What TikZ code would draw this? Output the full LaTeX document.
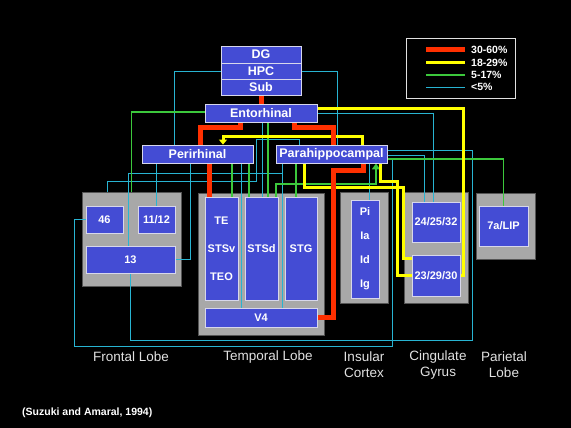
\documentclass[tikz,border=0pt]{standalone}
\usepackage{fontspec}
\setmainfont{Liberation Sans}
\usetikzlibrary{arrows.meta}
\pgfdeclarelayer{lobes}
\pgfdeclarelayer{wires}
\pgfsetlayers{lobes,wires,main}
\definecolor{boxblue}{RGB}{68,76,212}
\definecolor{boxedge}{RGB}{215,215,235}
\definecolor{lobegray}{RGB}{168,168,168}
\definecolor{lobeedge}{RGB}{85,85,85}
\definecolor{wred}{RGB}{255,48,0}
\definecolor{wyellow}{RGB}{255,255,0}
\definecolor{wgreen}{RGB}{60,200,60}
\definecolor{wcyan}{RGB}{40,180,210}
\definecolor{labelgray}{RGB}{225,225,225}

\begin{document}
\begin{tikzpicture}[x=1pt, y=-1pt,
    area/.style={draw=boxedge, line width=0.8pt, fill=boxblue, text=white,
      inner sep=0pt, font=\fontsize{11}{13}\selectfont\bfseries},
    bigarea/.style={area, font=\fontsize{12.5}{14}\selectfont\bfseries},
    lobe/.style={draw=lobeedge, line width=1pt, fill=lobegray, inner sep=0pt},
    redwire/.style={draw=wred, line width=5pt},
    yellowwire/.style={draw=wyellow, line width=3pt},
    greenwire/.style={draw=wgreen, line width=1.8pt},
    cyanwire/.style={draw=wcyan, line width=0.9pt},
    lobename/.style={text=labelgray, align=center, font=\fontsize{13.5}{16}\selectfont}]

  \begin{pgfonlayer}{lobes}
    \fill[black] (0,0) rectangle (571,428);
    \node[lobe, minimum width=99pt, minimum height=94pt] (frontal) at (131.5,239) {};
    \node[lobe, minimum width=126pt, minimum height=142pt] (temporal) at (261,264) {};
    \node[lobe, minimum width=48pt, minimum height=111pt] (insular) at (364,247.5) {};
    \node[lobe, minimum width=64pt, minimum height=111pt] (cingulate) at (436,247.5) {};
    \node[lobe, minimum width=59pt, minimum height=66pt] (parietal) at (505.5,226) {};
  \end{pgfonlayer}

  % hippocampal formation
  \node[bigarea, minimum width=80pt, minimum height=17pt] (dg) at (261,54.5) {DG};
  \node[bigarea, minimum width=80pt, minimum height=16pt] (hpc) at (261,71) {HPC};
  \node[bigarea, minimum width=80pt, minimum height=16pt] (sub) at (261,87) {Sub};
  \node[bigarea, minimum width=112pt, minimum height=18pt] (ento) at (261,113) {Entorhinal};
  \node[bigarea, minimum width=111pt, minimum height=18pt] (peri) at (197.5,154) {Perirhinal};
  \node[bigarea, minimum width=111pt, minimum height=18pt] (para) at (331.5,154) {Parahippocampal};

  % cortical areas
  \node[area, minimum width=37pt, minimum height=27pt] (a46) at (104.5,219.5) {46};
  \node[area, minimum width=37pt, minimum height=27pt] (a1112) at (156.5,219.5) {11/12};
  \node[area, minimum width=89pt, minimum height=27pt] (a13) at (130.5,259.5) {13};
  \node[area, minimum width=33pt, minimum height=103pt, align=center,
        font=\fontsize{11}{28}\selectfont\bfseries] (te) at (221.5,248.5) {TE\\STSv\\TEO};
  \node[area, minimum width=33pt, minimum height=103pt] (stsd) at (261.5,248.5) {STSd};
  \node[area, minimum width=32pt, minimum height=103pt] (stg) at (301,248.5) {STG};
  \node[area, minimum width=112pt, minimum height=19pt] (v4) at (261,317.5) {V4};
  \node[area, minimum width=28pt, minimum height=98pt, align=center,
        font=\fontsize{11}{24}\selectfont\bfseries] (pi) at (365,249) {Pi\\Ia\\Id\\Ig};
  \node[area, minimum width=48pt, minimum height=40pt] (a242532) at (436,222) {24/25/32};
  \node[area, minimum width=48pt, minimum height=41pt] (a232930) at (436,275.5) {23/29/30};
  \node[area, minimum width=49pt, minimum height=40pt] (lip) at (503.5,226) {7a/LIP};

  \begin{pgfonlayer}{wires}
    % <5%
    \draw[cyanwire] (hpc.west) -| (174,0 |- peri.north);
    \draw[cyanwire] (hpc.east) -| (337,0 |- para.north);
    \draw[cyanwire] (299,0 |- para.north) |- (256,139) |- (107,181) -- (107,0 |- frontal.north);
    \draw[cyanwire] (282,0 |- para.south) |- (128,173) -- (128,0 |- a13.north);
    \draw[cyanwire] (282,0 |- para.south) -- (282,0 |- v4.north);
    \draw[cyanwire] (156,0 |- peri.south) -- (156,0 |- a1112.north);
    \draw[cyanwire] (190,0 |- peri.south) |- (a13.east);
    \draw[cyanwire] (241,0 |- peri.south) -- (241,0 |- v4.north);
    \draw[cyanwire] ([yshift=4pt]para.east) -| (472,340) -| (a13.south);
    \draw[cyanwire] (a46.west) -| (74,346) -| (392,158) -- ([yshift=-4pt]para.east);
    \draw[cyanwire] (ento.east) -| (433,0 |- a242532.north);
    \draw[cyanwire] ([yshift=-1pt]para.east) -| (424,0 |- a242532.north);
    \draw[cyanwire] (369,0 |- para.south) -- (369,0 |- pi.north);
    \draw[cyanwire] (262,0 |- ento.south) -- (262,0 |- stsd.north);
    % 5-17%
    \draw[greenwire] ([yshift=1pt]ento.west) -| (frontal.north);
    \draw[greenwire] ([yshift=-5pt]para.east) -| (lip.north);
    \draw[greenwire] (268,0 |- ento.south) -- (268,0 |- stsd.north);
    \draw[greenwire] (232,0 |- peri.south) -- (232,0 |- te.north);
    \draw[greenwire] (249,0 |- peri.south) -- (249,0 |- stsd.north);
    \draw[greenwire] (296,0 |- para.south) -- (296,0 |- stg.north);
    \draw[greenwire, -{Triangle[length=6pt, width=8pt]}]
      (276,0 |- stsd.north) |- (376,184) -- (376,0 |- para.south);
    % 18-29%
    \draw[yellowwire] ([yshift=4pt]ento.east) -| ([xshift=3pt]a232930.east) -- (a232930.east);
    \draw[yellowwire, -{Triangle[length=5pt, width=8pt]}]
      (362,0 |- para.north) |- (223,137) -- (223,0 |- peri.north);
    \draw[yellowwire] (380,0 |- para.south) |- (397,181) |- (a232930.west);
    \draw[yellowwire] (304,0 |- para.south) |- (403,187) |- ([yshift=-4pt]a232930.north west);
    % 30-60%
    \draw[redwire] (sub) -- (ento);
    \draw[redwire] (240,0 |- ento.south) |- (200,128) -- (200,0 |- peri.north);
    \draw[redwire] (209,0 |- peri.south) -- (209,0 |- te.north);
    \draw[redwire] (294,0 |- ento.south) |- (333,128) -- (333,0 |- para.north);
    \draw[redwire] (363,0 |- para.south) |- (333,170) |- (v4.east);
  \end{pgfonlayer}

  % legend
  \node[draw=labelgray, line width=0.8pt, minimum width=109pt, minimum height=60pt,
        inner sep=0pt] (legend) at (460.5,68) {};
  \foreach \ystep/\wstyle/\wtext in {50/redwire/30-60\%, 63/yellowwire/18-29\%,
      75/greenwire/5-17\%, 87/cyanwire/<5\%} {
    \draw[\wstyle] (426,\ystep) -- (465,\ystep);
    \node[anchor=west, text=white, font=\fontsize{10.5}{12}\selectfont\bfseries,
          inner sep=0pt] at (471,\ystep) {\wtext};
  }

  \node[lobename] (frontalname) at (131,357) {Frontal Lobe};
  \node[lobename] (temporalname) at (268,357) {Temporal Lobe};
  \node[lobename] (insularname) at (364,365) {Insular\\Cortex};
  \node[lobename] (cingulatename) at (438,365) {Cingulate\\Gyrus};
  \node[lobename] (parietalname) at (504,365) {Parietal\\Lobe};
  \node[anchor=west, text=white, font=\fontsize{10.5}{12}\selectfont\bfseries, inner sep=0pt]
    (source) at (22,413) {(Suzuki and Amaral, 1994)};
\end{tikzpicture}
\end{document}
